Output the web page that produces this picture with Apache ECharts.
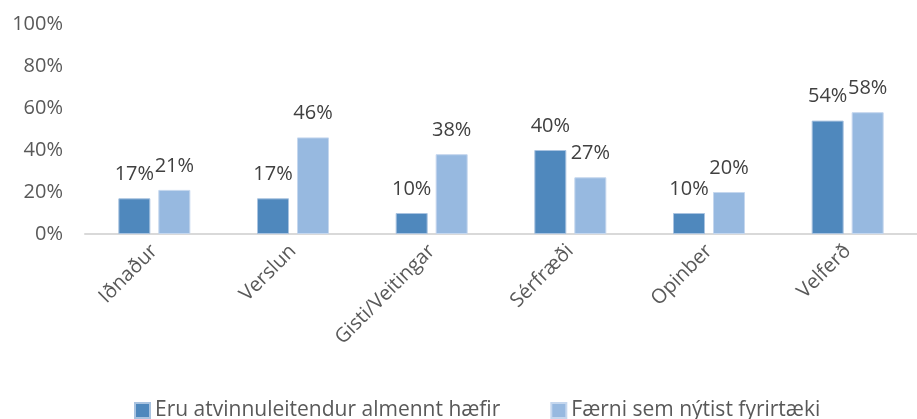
<!DOCTYPE html>
<html><head><meta charset="utf-8">
<script src="https://cdn.jsdelivr.net/npm/echarts@6/dist/echarts.min.js"></script>
<style>html,body{margin:0;padding:0;background:#fff;}#c{width:917px;height:419px;}</style>
</head><body><div id="c"></div>
<script>
const categories = ['Iðnaður', 'Verslun', 'Gisti/Veitingar', 'Sérfræði', 'Opinber', 'Velferð'];
const seriesNames = ['Eru atvinnuleitendur almennt hæfir', 'Færni sem nýtist fyrirtæki'];
const valuesA = [17, 17, 10, 40, 10, 54];
const valuesB = [21, 46, 38, 27, 20, 58];
const yTicks = [0, 20, 40, 60, 80, 100];

const FONT = '"Open Sans", sans-serif';
const chart = echarts.init(document.getElementById('c'));
const label = {
  show: true, position: 'top', distance: 14,
  formatter: p => p.value + '%',
  fontFamily: FONT, fontSize: 20, color: '#404040'
};
chart.setOption({
  animation: false,
  grid: { left: 85, right: 0, top: 24, bottom: 185, containLabel: false },
  legend: {
    data: seriesNames, top: 395, left: 129, itemGap: 50,
    itemWidth: 15, itemHeight: 15, icon: 'rect',
    textStyle: { fontFamily: FONT, fontSize: 21, color: '#595959' }
  },
  xAxis: {
    type: 'category', data: categories,
    axisLine: { lineStyle: { color: '#d9d9d9', width: 2 } },
    axisTick: { show: false },
    axisLabel: { rotate: 45, margin: 14, fontFamily: FONT, fontSize: 20, color: '#595959', interval: 0 }
  },
  yAxis: {
    type: 'value', min: yTicks[0], max: yTicks[yTicks.length - 1], interval: 20,
    axisLine: { show: false }, axisTick: { show: false },
    splitLine: { show: false },
    axisLabel: { formatter: v => v + '%', fontFamily: FONT, fontSize: 20, color: '#595959', margin: 22 }
  },
  series: [
    { name: seriesNames[0], type: 'bar', data: valuesA, barWidth: 32, barGap: '25%',
      itemStyle: { color: '#4f88bd', borderColor: '#a9c3e0', borderWidth: 1 }, label },
    { name: seriesNames[1], type: 'bar', data: valuesB, barWidth: 32,
      itemStyle: { color: '#97b9e0', borderColor: '#c5d7ee', borderWidth: 1 }, label }
  ]
});
</script></body></html>
